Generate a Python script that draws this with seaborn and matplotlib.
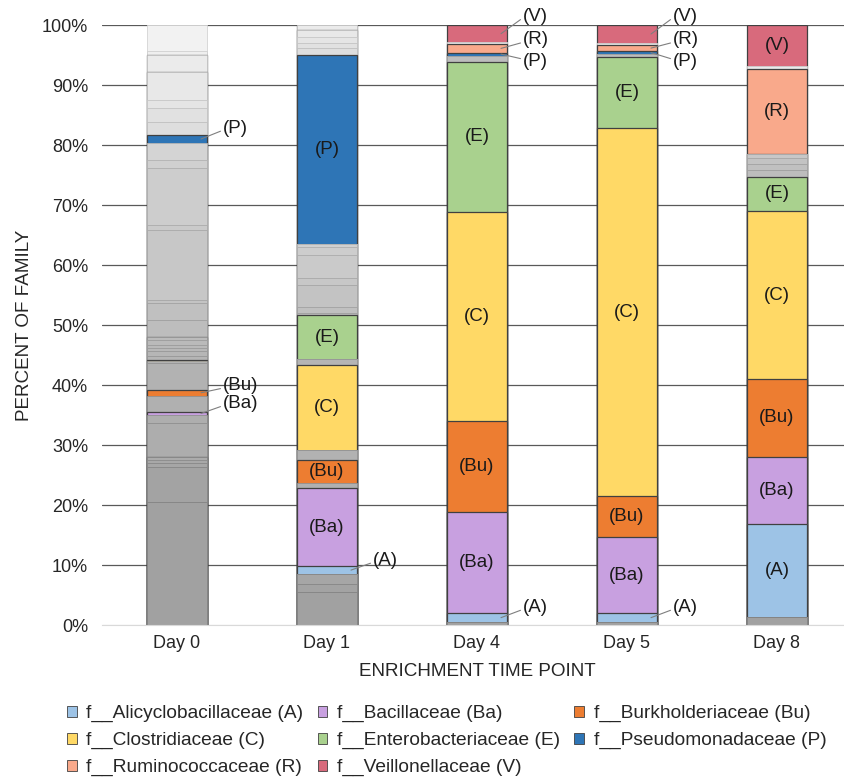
import numpy as np
import pandas as pd
import matplotlib
matplotlib.use("Agg")
import matplotlib.pyplot as plt
from matplotlib.patches import Patch
import seaborn as sns

# ---------------------------------------------------------------- data
days = ["Day 0", "Day 1", "Day 4", "Day 5", "Day 8"]

# named families, percent of reads per time point
alicyclobacillaceae = [0.0, 1.3, 1.45, 1.45, 15.5]
bacillaceae = [0.5, 13.0, 16.85, 12.65, 11.2]
burkholderiaceae = [1.0, 3.9, 15.2, 6.9, 13.0]
clostridiaceae = [0.2, 14.2, 34.9, 61.3, 28.0]
enterobacteriaceae = [0.0, 7.4, 25.0, 11.9, 5.7]
pseudomonadaceae = [1.4, 31.5, 0.5, 0.4, 0.0]
ruminococcaceae = [0.0, 0.0, 1.4, 1.1, 14.1]
veillonellaceae = [0.0, 0.0, 2.9, 3.0, 6.8]

# remaining families, grouped by where they sort alphabetically
others_before_A = [[20.5, 5.5, 0.5, 0.5, 1.3],
                   [5.8, 1.4, 0.0, 0.0, 0.0],
                   [0.7, 1.6, 0.0, 0.0, 0.0],
                   [0.5, 0.0, 0.0, 0.0, 0.0],
                   [0.5, 0.0, 0.0, 0.0, 0.0]]
others_A_Ba = [[5.7, 0.0, 0.0, 0.0, 0.0],
               [1.3, 0.0, 0.0, 0.0, 0.0]]
others_Ba_Bu = [[2.7, 0.8, 0.0, 0.0, 0.0]]
others_Bu_C = [[4.4, 1.6, 0.0, 0.0, 0.0],
               [0.4, 0.0, 0.0, 0.0, 0.0]]
others_C_E = [[0.6, 1.0, 0.0, 0.0, 0.0],
              [0.8, 0.0, 0.0, 0.0, 0.0],
              [0.5, 0.0, 0.0, 0.0, 0.0],
              [0.6, 0.0, 0.0, 0.0, 0.0],
              [0.8, 0.0, 0.0, 0.0, 0.0],
              [0.5, 0.0, 0.0, 0.0, 0.0]]
others_E_P = [[2.8, 0.3, 1.0, 0.5, 1.1],
              [2.9, 1.0, 0.0, 0.0, 1.1],
              [0.5, 3.7, 0.0, 0.0, 0.9],
              [11.6, 1.1, 0.0, 0.0, 0.7],
              [0.9, 3.9, 0.0, 0.0, 0.0],
              [9.5, 1.3, 0.0, 0.0, 0.0],
              [1.3, 0.5, 0.0, 0.0, 0.0],
              [2.8, 0.0, 0.0, 0.0, 0.0]]
others_P_R = [[2.2, 1.1, 0.0, 0.0, 0.0],
              [2.3, 0.9, 0.0, 0.0, 0.0],
              [1.3, 1.0, 0.0, 0.0, 0.0],
              [4.7, 1.2, 0.0, 0.0, 0.0]]
others_R_V = [[2.8, 0.8, 0.3, 0.3, 0.6]]
others_after_V = [[0.6, 0.0, 0.0, 0.0, 0.0],
                  [4.4, 0.0, 0.0, 0.0, 0.0]]

# ---------------------------------------------------------------- styling
named = [
    ("A", "f__Alicyclobacillaceae (A)", alicyclobacillaceae, "#9DC3E6"),
    ("Ba", "f__Bacillaceae (Ba)", bacillaceae, "#C8A0E0"),
    ("Bu", "f__Burkholderiaceae (Bu)", burkholderiaceae, "#ED7D31"),
    ("C", "f__Clostridiaceae (C)", clostridiaceae, "#FFD966"),
    ("E", "f__Enterobacteriaceae (E)", enterobacteriaceae, "#A9D18E"),
    ("P", "f__Pseudomonadaceae (P)", pseudomonadaceae, "#2E75B6"),
    ("R", "f__Ruminococcaceae (R)", ruminococcaceae, "#F9A98B"),
    ("V", "f__Veillonellaceae (V)", veillonellaceae, "#D86A7C"),
]
gray_groups = [others_before_A, others_A_Ba, others_Ba_Bu, others_Bu_C,
               others_C_E, others_E_P, others_P_R, others_R_V, others_after_V]

# unnamed families get lighter greys the later they sort
layers = []
gi = 0
for k in range(len(gray_groups)):
    for vals in gray_groups[k]:
        shade = float(np.interp(gi, [0, 4, 10, 16, 23, 24, 30],
                                [0.63, 0.67, 0.71, 0.74, 0.83, 0.87, 0.95]))
        layers.append(dict(key=None, values=np.array(vals, float),
                           face=(shade, shade, shade),
                           edge=(shade - 0.12,) * 3, lw=0.6))
        gi += 1
    if k < len(named):
        key, lab, vals, col = named[k]
        layers.append(dict(key=key, values=np.array(vals, float),
                           face=col, edge="#404040", lw=0.9))

tops = np.cumsum([l["values"] for l in layers], axis=0)
bottoms = tops - np.array([l["values"] for l in layers])

# ---------------------------------------------------------------- figure
sns.set_style("white")
plt.rcParams["font.family"] = ["Liberation Sans", "DejaVu Sans"]
text_col = "#262626"

fig = plt.figure(figsize=(8.45, 7.78), dpi=100)
ax = fig.add_axes([102 / 845, 1 - 625 / 778, 750 / 845, 600 / 778])

# cumulative bars drawn from the top of the stack down
for i in range(len(layers) - 1, -1, -1):
    lay = layers[i]
    frame = pd.DataFrame({"day": days, "top": tops[i]})
    sns.barplot(data=frame, x="day", y="top", order=days, color=lay["face"],
                saturation=1, errorbar=None, width=0.4,
                edgecolor=lay["edge"], linewidth=lay["lw"], ax=ax, zorder=2)

# labels inside the larger named segments
for i, lay in enumerate(layers):
    if lay["key"] is None:
        continue
    for d in range(len(days)):
        v = lay["values"][d]
        if v >= 3.5:
            ax.text(d, bottoms[i][d] + v / 2, f"({lay['key']})", ha="center",
                    va="center", fontsize=13.5, color="#1a1a1a", zorder=5)

# call-outs for the thin named segments: (day index, family) -> label height
callouts = {
    (0, "P"): 82.8, (0, "Bu"): 39.9, (0, "Ba"): 36.9,
    (1, "A"): 10.8,
    (2, "V"): 101.4, (2, "R"): 97.5, (2, "P"): 93.9, (2, "A"): 2.95,
    (3, "V"): 101.4, (3, "R"): 97.5, (3, "P"): 93.9, (3, "A"): 2.95,
}
layer_index = {lay["key"]: i for i, lay in enumerate(layers) if lay["key"]}
for (d, key), ty in callouts.items():
    i = layer_index[key]
    mid = bottoms[i][d] + layers[i]["values"][d] / 2
    end_y = ty - 0.5 * np.sign(ty - mid)
    ax.plot([d + 0.16, d + 0.29], [mid, end_y], color="#7f7f7f", lw=0.8,
            clip_on=False, zorder=6)
    ax.text(d + 0.305, ty, f"({key})", ha="left", va="center", fontsize=13.5,
            color="#1a1a1a", clip_on=False, zorder=6)

# axes
ax.set_xlim(-0.5, 4.5)
ax.set_ylim(0, 100)
ax.set_yticks(np.arange(0, 101, 10))
ax.set_yticklabels([f"{t}%" for t in range(0, 101, 10)])
ax.tick_params(axis="y", length=0, pad=10, labelsize=13, labelcolor=text_col)
ax.tick_params(axis="x", length=0, pad=7, labelsize=13, labelcolor=text_col)
ax.set_axisbelow(True)
ax.yaxis.grid(True, color="#595959", lw=0.9)
ax.get_ygridlines()[0].set_color("#d9d9d9")
for s in ["left", "right", "top"]:
    ax.spines[s].set_visible(False)
ax.spines["bottom"].set_color("#d9d9d9")

ax.set_xlabel("ENRICHMENT TIME POINT", fontsize=13.6, color=text_col)
ax.set_ylabel("PERCENT OF FAMILY", fontsize=13.6, color=text_col)
ax.xaxis.set_label_coords(0.5, -0.063)
ax.yaxis.set_label_coords(-0.092, 0.5)

# legend, laid out row by row in three columns
handles = {key: Patch(facecolor=col, edgecolor="#404040", lw=0.6, label=lab)
           for key, lab, vals, col in named}
order = ["A", "C", "R", "Ba", "E", "V", "Bu", "P"]
fig.legend(handles=[handles[k] for k in order], loc="upper left",
           bbox_to_anchor=(67 / 845, 1 - 705 / 778), ncol=3, frameon=False,
           handlelength=0.5, handleheight=0.5, handletextpad=0.5,
           columnspacing=0.75, labelspacing=0.52, borderpad=0, borderaxespad=0,
           fontsize=13.8, labelcolor=text_col)

fig.savefig("out.png", dpi=100)
